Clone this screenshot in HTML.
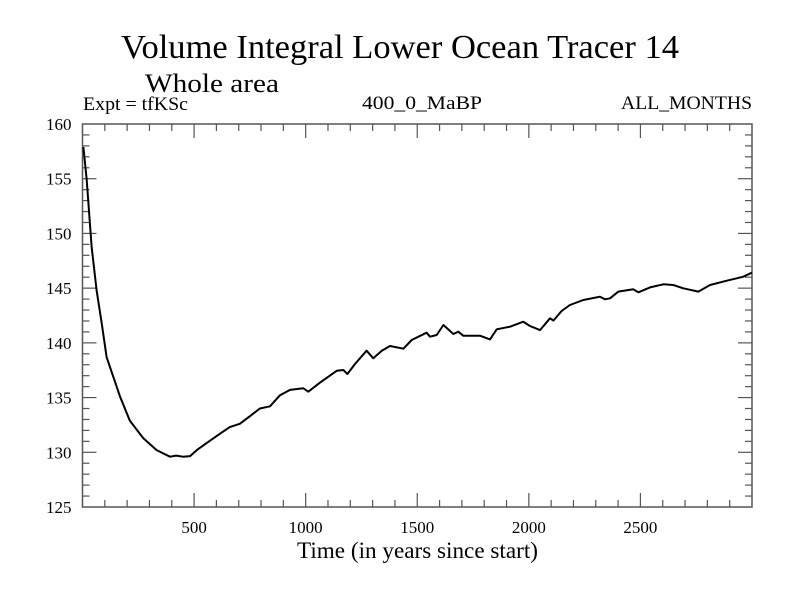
<!DOCTYPE html>
<html><head><meta charset="utf-8"><style>
body{margin:0;background:#fff;}
svg text{font-family:"Liberation Serif",serif;fill:#000;}
</style></head><body>
<svg id="chart" width="800" height="600" xmlns="http://www.w3.org/2000/svg">
<text x="400" y="58" font-size="34" text-anchor="middle" textLength="558" lengthAdjust="spacingAndGlyphs">Volume Integral Lower Ocean Tracer 14</text>
<text x="145" y="92" font-size="26" textLength="134" lengthAdjust="spacingAndGlyphs">Whole area</text>
<text x="83" y="110" font-size="19" textLength="105" lengthAdjust="spacingAndGlyphs">Expt = tfKSc</text>
<text x="362" y="109" font-size="19" textLength="120" lengthAdjust="spacingAndGlyphs">400_0_MaBP</text>
<text x="621" y="109" font-size="19" textLength="131" lengthAdjust="spacingAndGlyphs">ALL_MONTHS</text>
<text x="297" y="558" font-size="23" textLength="241" lengthAdjust="spacingAndGlyphs">Time (in years since start)</text>
<g id="axes"></g>
<path id="series" fill="none" stroke="#000" stroke-width="2" stroke-linejoin="round"/>
</svg>
<script>
const years=[4,19,41,63,86,108,138,168,212,272,332,392,420,450,482,512,560,616,660,705,750,795,840,884,930,990,1012,1064,1139,1169,1187,1221,1273,1303,1341,1378,1438,1475,1542,1557,1587,1617,1662,1684,1706,1781,1826,1856,1916,1975,2005,2050,2095,2110,2147,2184,2244,2319,2341,2364,2401,2468,2491,2543,2603,2647,2692,2760,2812,2887,2932,2961,2999];
const values=[157.9,154.9,148.8,144.8,141.8,138.7,136.9,135.1,132.9,131.3,130.2,129.6,129.7,129.6,129.65,130.2,130.9,131.7,132.3,132.6,133.3,134.0,134.2,135.2,135.7,135.85,135.54,136.36,137.45,137.52,137.15,138.07,139.28,138.59,139.28,139.71,139.47,140.26,140.93,140.56,140.72,141.63,140.81,141.02,140.65,140.65,140.32,141.24,141.48,141.93,141.54,141.17,142.24,142.03,142.91,143.46,143.92,144.22,143.98,144.07,144.68,144.89,144.62,145.07,145.35,145.29,144.99,144.68,145.29,145.68,145.9,146.05,146.41];
const xTicks=[500,1000,1500,2000,2500];
const yTicks=[125,130,135,140,145,150,155,160];
const L=82.5,R=752,T=124,B=507,X0=0,X1=3000,Y0=125,Y1=160;
const sx=v=>L+(v-X0)/(X1-X0)*(R-L);
const sy=v=>B-(v-Y0)/(Y1-Y0)*(B-T);
const NS="http://www.w3.org/2000/svg";
const g=document.getElementById('axes');
function mk(t,a){const e=document.createElementNS(NS,t);for(const k in a)e.setAttribute(k,a[k]);g.appendChild(e);return e;}
const fr=mk('rect',{x:L,y:T,width:R-L,height:B-T,fill:'none',stroke:'#555','stroke-width':1.5});


for(let v=100;v<X1;v+=100){const len=v%500===0?14:7;
 const t1=mk('line',{x1:sx(v),x2:sx(v),y1:B,y2:B-len,stroke:'#555','stroke-width':1.2});
 
 
 const t2=mk('line',{x1:sx(v),x2:sx(v),y1:T,y2:T+len,stroke:'#555','stroke-width':1.2});
 
 }
for(let v=Y0+1;v<Y1;v++){const len=v%5===0?14:7;
 const t1=mk('line',{x1:L,x2:L+len,y1:sy(v),y2:sy(v),stroke:'#555','stroke-width':1.2});
 
 
 const t2=mk('line',{x1:R,x2:R-len,y1:sy(v),y2:sy(v),stroke:'#555','stroke-width':1.2});
 
 }
xTicks.forEach(v=>{const t=mk('text',{x:sx(v),y:B+26,'font-size':17,'text-anchor':'middle'});t.textContent=v;
 
 });
yTicks.forEach(v=>{const t=mk('text',{x:L-11,y:sy(v)+6,'font-size':17,'text-anchor':'end'});t.textContent=v;
 
 });
document.getElementById('series').setAttribute('d',years.map((y,i)=>(i?'L':'M')+sx(y).toFixed(1)+','+sy(values[i]).toFixed(1)).join(''));
</script>
</body></html>
